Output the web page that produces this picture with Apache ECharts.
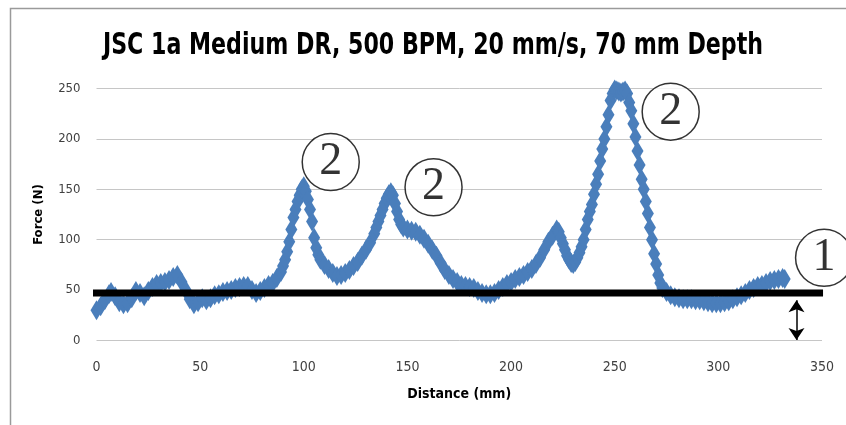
<!DOCTYPE html>
<html>
<head>
<meta charset="utf-8">
<title>JSC 1a Medium DR</title>
<script src="https://cdn.jsdelivr.net/npm/echarts@6/dist/echarts.min.js"></script>
<style>
html, body { margin: 0; padding: 0; background: #fff; }
#main { width: 846px; height: 425px; }
</style>
</head>
<body>
<div id="main"></div>
<script>
// distance (mm) and force (N)
var distance = [0, 2, 4, 6, 7, 9, 11, 13, 15, 17, 19, 21, 23, 25, 27, 29, 31, 33, 35, 37, 39, 41, 43, 45, 47, 49,
	51, 53, 55, 57, 59, 61, 63, 65, 67, 69, 71, 73, 75, 77, 79, 81, 83, 85, 87, 89, 90, 91, 92, 93, 94, 95, 96, 97, 98, 99,
	100, 101, 102, 103, 104, 105, 106, 107, 108, 110, 112, 114, 116, 118, 120, 122, 124, 126, 128, 130, 132, 134, 135, 136, 137, 138, 139,
	140, 141, 142, 143, 144, 145, 146, 147, 148, 150, 152, 154, 156, 158, 160, 162, 164, 166, 168, 170, 172, 174, 176, 178,
	180, 182, 184, 186, 188, 190, 192, 194, 196, 198, 200, 202, 204, 206, 208, 210, 212, 214, 216, 218, 220, 222, 223, 224, 225, 226, 227, 228, 229,
	230, 231, 232, 233, 234, 235, 236, 237, 238, 239, 240, 241, 242, 243, 244, 245, 246, 247, 248, 249,
	250, 251, 252, 253, 254, 255, 256, 257, 258, 259, 260, 261, 262, 263, 264, 265, 266, 267, 268, 269,
	270, 271, 272, 273, 275, 277, 279, 281, 283, 285, 287, 289, 291, 293, 295, 297, 299,
	301, 303, 305, 307, 309, 311, 313, 315, 317, 319, 321, 323, 325, 327, 329, 331, 332];
var force = [30, 34, 40, 46, 48, 44, 38, 36, 37, 42, 49, 47, 44, 49, 53, 56, 57, 58, 60, 63, 65, 58, 50, 41, 36, 38,
	42, 40, 42, 45, 46, 48, 49, 50, 52, 53, 54, 54, 50, 47, 49, 52, 55, 57, 62, 68, 74, 80, 88, 98, 110, 122, 130, 138, 144, 150,
	153, 148, 140, 130, 118, 102, 92, 85, 80, 75, 71, 67, 64, 65, 67, 70, 74, 78, 84, 90, 97, 106, 112, 118, 124, 130, 136,
	141, 145, 147, 144, 136, 128, 120, 115, 112, 110, 109, 108, 105, 101, 96, 90, 84, 77, 70, 65, 61, 58, 55, 54,
	53, 52, 49, 47, 46, 46, 47, 50, 53, 56, 58, 61, 63, 65, 68, 71, 76, 82, 90, 98, 104, 110, 108, 102, 96, 90, 84, 80, 77,
	76, 78, 82, 87, 93, 100, 110, 120, 128, 135, 145, 155, 165, 178, 190, 200, 212, 224, 238, 245,
	249, 248, 247, 246, 247, 248, 245, 236, 228, 215, 202, 188, 174, 160, 150, 138, 126, 112, 100, 86,
	76, 65, 57, 52, 48, 45, 43, 42, 41, 41, 41, 40, 40, 39, 38, 37, 37,
	37, 38, 39, 41, 43, 45, 47, 50, 52, 54, 55, 57, 59, 60, 61, 62, 61];

var xTicks = [0, 50, 100, 150, 200, 250, 300, 350];
var yTicks = [0, 50, 100, 150, 200, 250];

var titleText = 'JSC 1a Medium DR, 500 BPM, 20 mm/s, 70 mm Depth';

// threshold line (1) and the marked peaks (2)
var baseLevel = 47;
var baseFrom = -3.5, baseTo = 350.5;
var arrowX = 337.7, arrowTop = 40;
var marks = [[113, 177, '2'], [162.6, 152, '2'], [277, 227, '2'], [351, 82, '1']];

var points = [];
for (var i = 0; i < distance.length; i++) {
	points.push([distance[i], force[i]]);
}

var chart = echarts.init(document.getElementById('main'), null, { renderer: 'canvas' });

var labelFont = "'Liberation Sans Narrow', 'DejaVu Sans Condensed', 'Liberation Sans', sans-serif";

var option = {
	backgroundColor: '#ffffff',
	animation: false,
	graphic: [{
		type: 'polyline',
		shape: { points: [[10.5, 425], [10.5, 8.5], [846, 8.5]] },
		style: { stroke: '#9a9a9a', lineWidth: 1.5, fill: null },
		silent: true
	}, {
		// Calibri-like narrow title: condensed font squeezed a bit
		type: 'text',
		x: 433,
		y: 46,
		scaleX: 0.82,
		silent: true,
		style: {
			text: titleText,
			font: "bold 30px " + labelFont,
			fill: '#000000',
			textAlign: 'center',
			textVerticalAlign: 'middle'
		}
	}],
	grid: {
		left: 96.5,
		right: 24,
		top: 88.5,
		bottom: 84.5
	},
	xAxis: {
		type: 'value',
		min: xTicks[0],
		max: xTicks[xTicks.length - 1],
		interval: 50,
		name: 'Distance (mm)',
		nameLocation: 'middle',
		nameGap: 47,
		nameTextStyle: { fontFamily: labelFont, fontSize: 14, fontWeight: 'bold', color: '#000' },
		axisLine: { show: false },
		axisTick: { show: false },
		splitLine: { show: false },
		axisLabel: { margin: 20, fontFamily: labelFont, fontSize: 14, color: '#404040' }
	},
	yAxis: {
		type: 'value',
		min: yTicks[0],
		max: yTicks[yTicks.length - 1],
		interval: 50,
		name: 'Force (N)',
		nameLocation: 'middle',
		nameGap: 51,
		nameTextStyle: { fontFamily: labelFont, fontSize: 13, fontWeight: 'bold', color: '#000' },
		axisLine: { show: false },
		axisTick: { show: false },
		splitLine: { show: true, lineStyle: { color: '#c6c6c6', width: 1 } },
		axisLabel: { margin: 16, fontFamily: labelFont, fontSize: 13, color: '#404040' }
	},
	series: [{
		name: 'Force',
		type: 'scatter',
		symbol: 'diamond',
		symbolSize: [12, 20],
		itemStyle: { color: '#4a7ebb', opacity: 1 },
		data: points,
		z: 2
	}, {
		name: 'Base',
		type: 'line',
		clip: false,
		symbol: 'none',
		lineStyle: { color: '#000000', width: 7 },
		data: [[baseFrom, baseLevel], [baseTo, baseLevel]],
		markLine: {
			silent: true,
			symbol: ['arrow', 'arrow'],
			symbolSize: [12, 12],
			label: { show: false },
			lineStyle: { color: '#000000', width: 1.5, type: 'solid' },
			data: [[{ coord: [arrowX, arrowTop] }, { coord: [arrowX, 0.5] }]]
		},
		z: 3
	}, {
		name: 'Marks',
		type: 'scatter',
		clip: false,
		symbol: 'circle',
		symbolSize: 57,
		itemStyle: { color: '#ffffff', borderColor: '#000000', borderWidth: 1.5 },
		label: {
			show: true,
			position: 'inside',
			formatter: function (p) { return p.value[2]; },
			fontFamily: "'Liberation Serif', 'DejaVu Serif', serif",
			fontSize: 46,
			color: '#000000',
			textBorderWidth: 0
		},
		data: marks,
		z: 4
	}]
};

chart.setOption(option);
</script>
</body>
</html>
